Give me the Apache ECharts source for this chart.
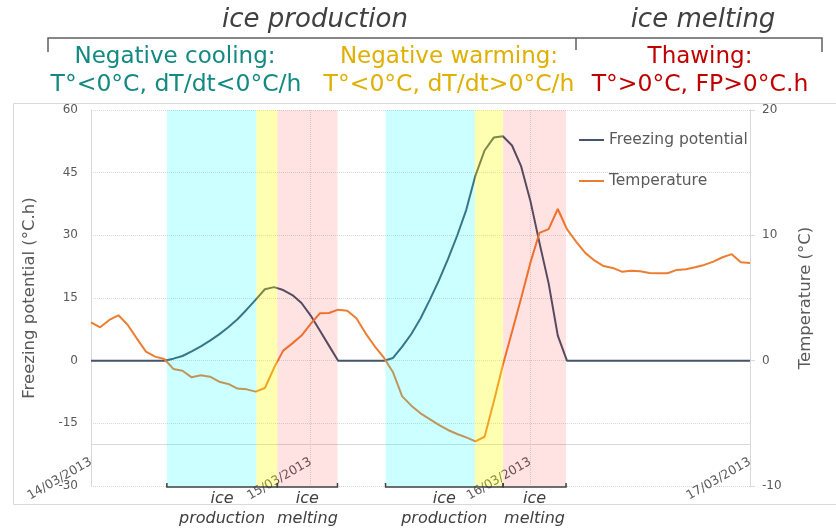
<!DOCTYPE html>
<html>
<head>
<meta charset="utf-8">
<script src="https://cdn.jsdelivr.net/npm/echarts@6/dist/echarts.min.js"></script>
<style>
html,body{margin:0;padding:0;background:#fff;}
#chart{width:836px;height:530px;}
</style>
</head>
<body>
<div id="chart"></div>
<script>
// Hourly values from 14/03/2013 00:00 to 17/03/2013 00:00
const freezingPotential = [
  0, 0, 0, 0, 0, 0, 0, 0, 0, 0.48,
  1.12, 2.23, 3.43, 4.79, 6.3, 7.98, 9.9, 12.2, 14.6, 17.1,
  17.6, 16.9, 15.7, 13.8, 10.8, 7.2, 3.6, 0, 0, 0,
  0, 0, 0, 0.64, 3.35, 6.38, 10.1, 14.5, 19.15, 24.3,
  29.9, 36.1, 44.3, 50.3, 53.4, 53.7, 51.5, 46.5, 38.3, 28.2,
  18.5, 6.0, 0, 0, 0, 0, 0, 0, 0, 0,
  0, 0, 0, 0, 0, 0, 0, 0, 0, 0,
  0, 0, 0
];
const temperature = [
  3.06, 2.66, 3.25, 3.62, 2.87, 1.78, 0.72, 0.32, 0.13, -0.66,
  -0.8, -1.33, -1.17, -1.28, -1.68, -1.86, -2.23, -2.29, -2.47, -2.18,
  -0.57, 0.8, 1.38, 2.0, 2.93, 3.78, 3.8, 4.07, 3.99, 3.38,
  2.18, 1.15, 0.24, -0.93, -2.85, -3.59, -4.2, -4.66, -5.13, -5.53,
  -5.85, -6.12, -6.44, -6.07, -3.3, -0.35, 2.3, 5.0, 7.8, 10.2,
  10.5, 12.1, 10.5, 9.5, 8.6, 8.0, 7.55, 7.4, 7.1, 7.18,
  7.13, 7.0, 6.97, 6.97, 7.24, 7.3, 7.45, 7.64, 7.9, 8.25,
  8.5, 7.86, 7.8
];
const dateLabels = ['14/03/2013', '15/03/2013', '16/03/2013', '17/03/2013'];

// Episodes (hours since 14/03/2013 00:00)
const coolingStart = [8.29, 32.18];
const warmingStart = [18.07, 41.95];
const thawingStart = [20.36, 45.02];
const thawingEnd = [26.93, 51.9];

const bandColors = ['rgba(0,255,255,0.2)', 'rgba(255,255,0,0.3)', 'rgba(255,0,0,0.11)'];
const bracketLabels = ['ice\nproduction', 'ice\nmelting'];

const FONT = 'DejaVu Sans';
const GRAY = '#595959';

const bandData = [];
const bracketData = [];
for (let i = 0; i < coolingStart.length; i++) {
  bandData.push([coolingStart[i], warmingStart[i], 0]);
  bandData.push([warmingStart[i], thawingStart[i], 1]);
  bandData.push([thawingStart[i], thawingEnd[i], 2]);
  bracketData.push([coolingStart[i], thawingStart[i], 0]);
  bracketData.push([thawingStart[i], thawingEnd[i], 1]);
}

const chart = echarts.init(document.getElementById('chart'), null, {renderer: 'canvas'});

const option = {
  animation: false,
  textStyle: {fontFamily: FONT},
  grid: {left: 91, right: 86, top: 110, bottom: 44, containLabel: false},
  legend: {
    orient: 'vertical',
    left: 574,
    top: 127,
    itemWidth: 25,
    itemHeight: 2,
    itemGap: 25,
    icon: 'rect',
    textStyle: {fontSize: 15.5, color: GRAY, fontFamily: FONT},
    data: ['Freezing potential', 'Temperature']
  },
  xAxis: {
    type: 'value',
    min: 0,
    max: 72,
    interval: 24,
    offset: -42,
    axisLine: {show: true, onZero: false, lineStyle: {color: '#d9d9d9', width: 1}},
    axisTick: {show: false},
    axisLabel: {
      rotate: 30,
      margin: 17,
      fontSize: 12.5,
      color: GRAY,
      fontFamily: FONT,
      showMinLabel: true,
      showMaxLabel: true,
      formatter: function (v) { return dateLabels[Math.round(v / 24)] || ''; }
    },
    splitLine: {show: true, lineStyle: {color: '#d9d9d9', type: 'dotted', width: 1}}
  },
  yAxis: [
    {
      type: 'value',
      min: -30,
      max: 60,
      interval: 15,
      name: 'Freezing potential (°C.h)',
      nameLocation: 'middle',
      nameGap: 53,
      nameRotate: 90,
      nameTextStyle: {fontSize: 16.5, color: GRAY, fontFamily: FONT},
      axisLine: {show: true, lineStyle: {color: '#d9d9d9', width: 1}},
      axisTick: {show: false},
      axisLabel: {fontSize: 12, color: GRAY, margin: 13, fontFamily: FONT},
      splitLine: {show: true, lineStyle: {color: '#d9d9d9', type: 'dotted', width: 1}}
    },
    {
      type: 'value',
      min: -10,
      max: 20,
      interval: 10,
      position: 'right',
      name: 'Temperature (°C)',
      nameLocation: 'middle',
      nameGap: 47,
      nameRotate: 90,
      nameTextStyle: {fontSize: 16.5, color: GRAY, fontFamily: FONT},
      axisLine: {show: true, lineStyle: {color: '#d9d9d9', width: 1}},
      axisTick: {show: true, length: 5, lineStyle: {color: '#d9d9d9'}},
      axisLabel: {fontSize: 12, color: GRAY, margin: 12, fontFamily: FONT},
      splitLine: {show: false}
    }
  ],
  series: [
    {
      name: 'Freezing potential',
      type: 'line',
      yAxisIndex: 0,
      showSymbol: false,
      symbol: 'none',
      z: 2,
      color: '#44546a',
      lineStyle: {color: '#44546a', width: 2},
      data: freezingPotential.map((v, i) => [i, v])
    },
    {
      name: 'Temperature',
      type: 'line',
      yAxisIndex: 1,
      showSymbol: false,
      symbol: 'none',
      z: 3,
      color: '#ed7d31',
      lineStyle: {color: '#ed7d31', width: 2},
      data: temperature.map((v, i) => [i, v])
    },
    {
      name: 'bands',
      type: 'custom',
      yAxisIndex: 0,
      z: 6,
      silent: true,
      clip: false,
      encode: {x: [0, 1]},
      data: bandData,
      renderItem: function (params, api) {
        const a = api.coord([api.value(0), 60]);
        const b = api.coord([api.value(1), -30]);
        return {
          type: 'rect',
          shape: {x: a[0], y: a[1], width: b[0] - a[0], height: b[1] - a[1]},
          style: {fill: bandColors[api.value(2)]}
        };
      }
    },
    {
      name: 'brackets',
      type: 'custom',
      yAxisIndex: 0,
      z: 7,
      silent: true,
      clip: false,
      encode: {x: [0, 1]},
      data: bracketData,
      renderItem: function (params, api) {
        const a = api.coord([api.value(0), -30]);
        const b = api.coord([api.value(1), -30]);
        const y = a[1] + 1;
        return {
          type: 'group',
          children: [
            {
              type: 'polyline',
              shape: {points: [[a[0], y - 4], [a[0], y], [b[0], y], [b[0], y - 4]]},
              style: {stroke: '#404040', lineWidth: 1.5, fill: null}
            },
            {
              type: 'text',
              x: (a[0] + b[0]) / 2,
              y: y + 2,
              style: {
                text: bracketLabels[api.value(2)],
                textAlign: 'center',
                textVerticalAlign: 'top',
                font: 'italic 16px "DejaVu Sans"',
                fill: '#404040',
                lineHeight: 20
              }
            }
          ]
        };
      }
    }
  ],
  graphic: [
    {type: 'rect', left: 11, top: 101, z: -10, silent: true,
      shape: {width: 830, height: 401}, style: {fill: null, stroke: '#d9d9d9', lineWidth: 1}},
    {type: 'polyline', z: 10, silent: true,
      shape: {points: [[48, 52], [48, 38], [822, 38], [822, 52]]},
      style: {stroke: '#606060', lineWidth: 1.5, fill: null}},
    {type: 'line', z: 10, silent: true,
      shape: {x1: 576, y1: 38, x2: 576, y2: 50},
      style: {stroke: '#606060', lineWidth: 1.5}},
    {type: 'text', x: 315, y: 20, z: 10, style: {text: 'ice production', textAlign: 'center', textVerticalAlign: 'middle', font: 'italic 26px "DejaVu Sans"', fill: '#404040'}},
    {type: 'text', x: 703, y: 20, z: 10, style: {text: 'ice melting', textAlign: 'center', textVerticalAlign: 'middle', font: 'italic 26px "DejaVu Sans"', fill: '#404040'}},
    {type: 'text', x: 175, y: 57, z: 10, style: {text: 'Negative cooling:', textAlign: 'center', textVerticalAlign: 'middle', font: '23px "DejaVu Sans"', fill: '#128a82'}},
    {type: 'text', x: 176, y: 85, z: 10, style: {text: 'T°<0°C, dT/dt<0°C/h', textAlign: 'center', textVerticalAlign: 'middle', font: '23.5px "DejaVu Sans"', fill: '#128a82'}},
    {type: 'text', x: 449, y: 57, z: 10, style: {text: 'Negative warming:', textAlign: 'center', textVerticalAlign: 'middle', font: '23px "DejaVu Sans"', fill: '#dfb000'}},
    {type: 'text', x: 449, y: 85, z: 10, style: {text: 'T°<0°C, dT/dt>0°C/h', textAlign: 'center', textVerticalAlign: 'middle', font: '23.5px "DejaVu Sans"', fill: '#dfb000'}},
    {type: 'text', x: 700, y: 57, z: 10, style: {text: 'Thawing:', textAlign: 'center', textVerticalAlign: 'middle', font: '23px "DejaVu Sans"', fill: '#c00000'}},
    {type: 'text', x: 700, y: 85, z: 10, style: {text: 'T°>0°C, FP>0°C.h', textAlign: 'center', textVerticalAlign: 'middle', font: '23.5px "DejaVu Sans"', fill: '#c00000'}}
  ]
};

chart.setOption(option);
</script>
</body>
</html>
